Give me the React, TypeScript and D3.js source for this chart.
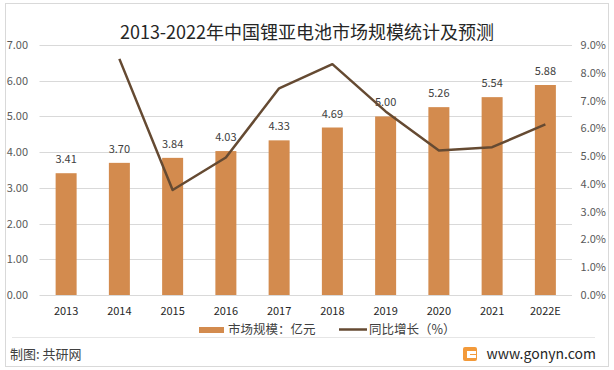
import React from "react";
import * as d3 from "d3";

const categories = ["2013", "2014", "2015", "2016", "2017", "2018", "2019", "2020", "2021", "2022E"];
const marketSize = [3.41, 3.7, 3.84, 4.03, 4.33, 4.69, 5.0, 5.26, 5.54, 5.88];
const growth: (number | null)[] = [null, 8.5, 3.78, 4.95, 7.44, 8.31, 6.61, 5.2, 5.32, 6.14];
const leftTicks = [0, 1, 2, 3, 4, 5, 6, 7];
const rightTicks = [0, 1, 2, 3, 4, 5, 6, 7, 8, 9];

const W = 614;
const H = 370;
const FONT = "'Noto Sans CJK SC', 'Noto Sans', sans-serif";

export default function App() {
  const x = d3.scaleBand<string>().domain(categories).range([39.5, 572]).paddingInner(0.6).paddingOuter(0.3);
  const xc = d3.scaleBand<string>().domain(categories).range([39.5, 572]);
  const yL = d3.scaleLinear().domain([0, 7]).range([295, 45]);
  const yR = d3.scaleLinear().domain([0, 9]).range([295, 45]);
  const line = d3
    .line<number | null>()
    .defined((d) => d !== null)
    .x((_, i) => (xc(categories[i]) as number) + xc.bandwidth() / 2)
    .y((d) => yR(d as number));
  const bw = 21;

  return (
    <svg width={W} height={H} style={{ position: "absolute", left: 0, top: 0, fontFamily: FONT }}>
      <rect x={0} y={0} width={W} height={H} fill="#fff" />
      <rect x={5.5} y={3.5} width={603} height={363} fill="none" stroke="#d9d9d9" strokeWidth={1} />
      <text x={307} y={39} textAnchor="middle" fontSize={18} fill="#262626">
        2013-2022年中国锂亚电池市场规模统计及预测
      </text>
      {leftTicks.map((t) => (
        <g key={"l" + t}>
          <line x1={39.5} x2={572} y1={Math.round(yL(t)) + 0.5} y2={Math.round(yL(t)) + 0.5} stroke="#d9d9d9" />
          <text x={28} y={yL(t) + 4} textAnchor="end" fontSize={11} fill="#595959">
            {t.toFixed(2)}
          </text>
        </g>
      ))}
      {rightTicks.map((t) => (
        <text key={"r" + t} x={606} y={yR(t) + 4} textAnchor="end" fontSize={11} fill="#595959">
          {t.toFixed(1) + "%"}
        </text>
      ))}
      {categories.map((c, i) => {
        const cx = (xc(c) as number) + xc.bandwidth() / 2;
        return (
          <g key={c}>
            <rect x={cx - bw / 2} y={yL(marketSize[i])} width={bw} height={yL(0) - yL(marketSize[i])} fill="#D38B4E" />
            <text x={cx} y={yL(marketSize[i]) - 10} textAnchor="middle" fontSize={11} fill="#404040">
              {marketSize[i].toFixed(2)}
            </text>
            <text x={cx} y={315} textAnchor="middle" fontSize={11} fill="#262626">
              {c}
            </text>
          </g>
        );
      })}
      <path d={line(growth) || ""} fill="none" stroke="#654A32" strokeWidth={2.5} strokeLinejoin="round" />
      <rect x={199} y={327} width={25} height={6} fill="#D38B4E" />
      <text x={228} y={334} fontSize={12.5} fill="#404040">市场规模：亿元</text>
      <line x1={339} x2={367} y1={329.5} y2={329.5} stroke="#654A32" strokeWidth={2.5} />
      <text x={369} y={334} fontSize={12.5} fill="#404040">同比增长（%）</text>
      <line x1={12} x2={595} y1={337.5} y2={337.5} stroke="#e6e6e6" />
      <text x={10} y={359} fontSize={13} fill="#404040">制图: 共研网</text>
      <g>
        <rect x={463} y={347} width={14} height={14} rx={2} fill="#F39A3A" />
        <rect x={467} y={351} width={9} height={3} fill="#fff" />
        <rect x={467} y={351} width={3} height={7} fill="#fff" />
        <rect x={470} y={355} width={6} height={3} fill="#fff" />
      </g>
      <text x={596} y={359} textAnchor="end" fontSize={14} fill="#262626">www.gonyn.com</text>
    </svg>
  );
}
